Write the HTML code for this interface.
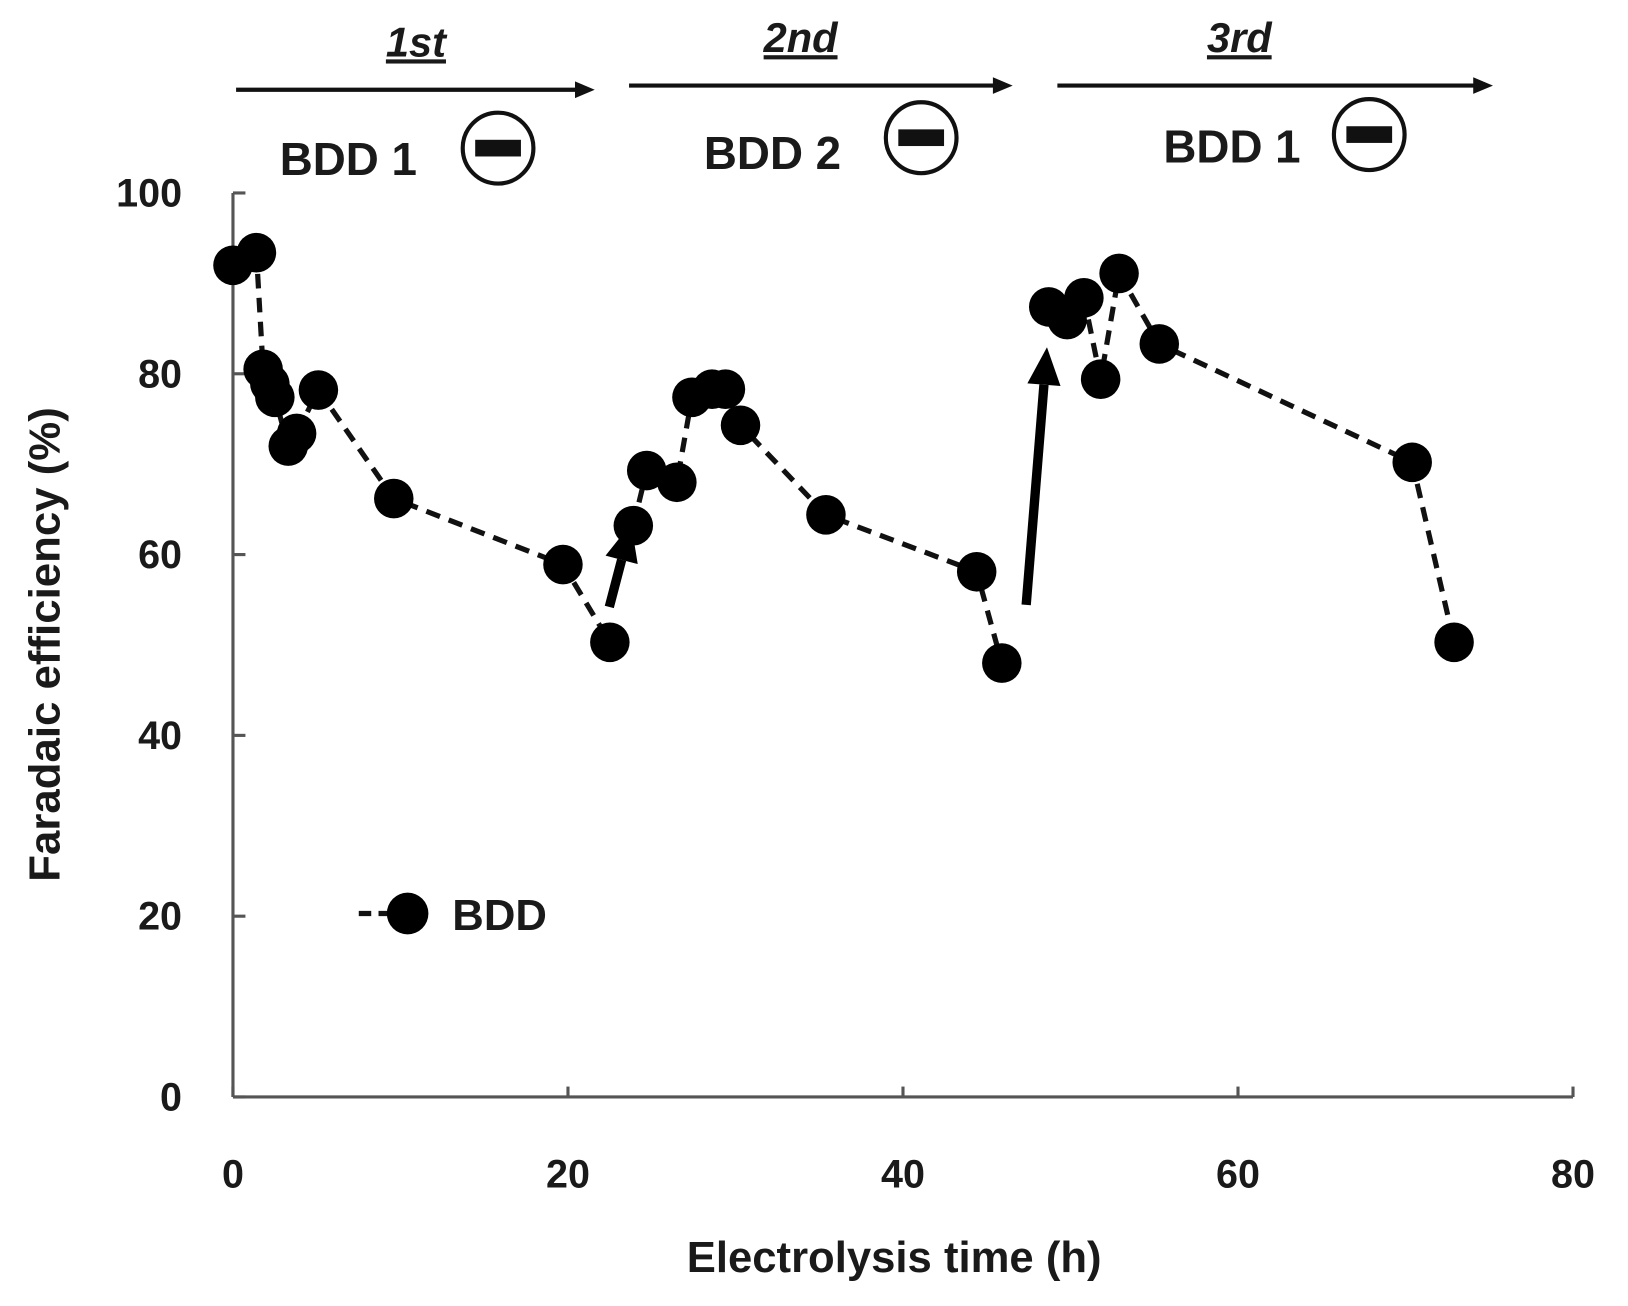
<!DOCTYPE html>
<html><head><meta charset="utf-8"><style>
body{margin:0;background:#fff}
svg text{font-family:"Liberation Sans",sans-serif;font-weight:bold;fill:#1a1a1a}
</style></head><body>
<svg width="1628" height="1301" viewBox="0 0 1628 1301">
<g transform="matrix(1.0396 0 0 1.0427 -5.1 -4.1)">
<g id="top">
<text x="405" y="58" font-size="40" font-style="italic" text-anchor="middle" text-decoration="underline">1st</text>
<text x="775" y="54" font-size="40" font-style="italic" text-anchor="middle" text-decoration="underline">2nd</text>
<text x="1197" y="54" font-size="40" font-style="italic" text-anchor="middle" text-decoration="underline">3rd</text>
<g stroke="#111" stroke-width="4">
<line x1="232" y1="90" x2="562" y2="90"/><line x1="610" y1="86" x2="964" y2="86"/><line x1="1022" y1="86" x2="1426" y2="86"/></g>
<polygon points="577,90 558,82 558,98" fill="#111"/><polygon points="979,86 960,78 960,94" fill="#111"/><polygon points="1441,86 1422,78 1422,94" fill="#111"/>
<text x="340" y="172" font-size="44" text-anchor="middle" font-weight="normal">BDD 1</text>
<text x="748" y="166" font-size="44" text-anchor="middle" font-weight="normal">BDD 2</text>
<text x="1190" y="160" font-size="44" text-anchor="middle" font-weight="normal">BDD 1</text>
<g><circle cx="484" cy="146" r="34" fill="none" stroke="#111" stroke-width="4"/><rect x="462" y="138" width="44" height="16" fill="#111"/></g>
<g><circle cx="891" cy="136" r="34" fill="none" stroke="#111" stroke-width="4"/><rect x="869" y="128" width="44" height="16" fill="#111"/></g>
<g><circle cx="1322" cy="133" r="34" fill="none" stroke="#111" stroke-width="4"/><rect x="1300" y="125" width="44" height="16" fill="#111"/></g>
</g>
<g id="axes"></g>
<g id="plot"></g>
<g>
<line x1="350" y1="880" x2="395" y2="880" stroke="#111" stroke-width="5" stroke-dasharray="12,7"/>
<circle cx="397" cy="880" r="20" fill="#000"/>
<text x="440" y="896" font-size="42" font-weight="normal">BDD</text>
</g>
<text x="865" y="1224" font-size="42" text-anchor="middle">Electrolysis time (h)</text>
<text transform="translate(62,622) rotate(-90)" font-size="42" text-anchor="middle">Faradaic efficiency (%)</text>
</g>
</svg>
<script>
const xTicks=[0,20,40,60,80];
const yTicks=[0,20,40,60,80,100];
const cycle1X=[0,1.4,1.8,2.2,2.5,3.3,3.8,5.1,9.6,19.7,22.5];
const cycle1Y=[92,93.4,80.5,78.9,77.4,72,73.4,78.2,66.2,58.9,50.3];
const cycle2X=[23.9,24.7,26.5,27.4,28.6,29.4,30.3,35.4,44.4,45.9];
const cycle2Y=[63.2,69.3,68,77.4,78.3,78.3,74.3,64.4,58.1,48];
const cycle3X=[48.7,49.8,50.8,51.8,52.9,55.3,70.4,72.9];
const cycle3Y=[87.4,86,88.4,79.4,91.1,83.3,70.2,50.3];
const NS='http://www.w3.org/2000/svg';
const sx=v=>229+v*(1518-229)/80;
const sy=v=>1056-v*(1056-189)/100;
function mk(t,a,p){const e=document.createElementNS(NS,t);for(const k in a)e.setAttribute(k,a[k]);p.appendChild(e);return e;}
const ax=document.getElementById('axes');
let l=mk('line',{x1:sx(0),y1:sy(0),x2:sx(80),y2:sy(0),stroke:'#555','stroke-width':3},ax);


l=mk('line',{x1:sx(0),y1:sy(0),x2:sx(0),y2:sy(100),stroke:'#555','stroke-width':3},ax);


xTicks.forEach(v=>{mk('line',{x1:sx(v),y1:sy(0),x2:sx(v),y2:sy(0)-10,stroke:'#555','stroke-width':3},ax);
const t=mk('text',{x:sx(v),y:1143,'font-size':38,'text-anchor':'middle'},ax);t.textContent=v;

});
yTicks.forEach(v=>{mk('line',{x1:sx(0),y1:sy(v),x2:sx(0)+12,y2:sy(v),stroke:'#555','stroke-width':3},ax);
const t=mk('text',{x:180,y:sy(v)+13,'font-size':38,'text-anchor':'end'},ax);t.textContent=v;

});
const pl=document.getElementById('plot');
[[cycle1X,cycle1Y],[cycle2X,cycle2Y],[cycle3X,cycle3Y]].forEach((c,i)=>{
const p=mk('polyline',{points:c[0].map((x,j)=>sx(x)+','+sy(c[1][j])).join(' '),fill:'none',stroke:'#111','stroke-width':5,'stroke-dasharray':'14,9'},pl);


c[0].forEach((x,j)=>{const d=mk('circle',{cx:sx(x),cy:sy(c[1][j]),r:19,fill:'#000'},pl);

});});
function arrow(x1,y1,x2,y2,name){const g=mk('g',{},pl);


const a=Math.atan2(y2-y1,x2-x1),L=36,W=16;const bx=x2-L*Math.cos(a),by=y2-L*Math.sin(a);
mk('line',{x1:x1,y1:y1,x2:bx,y2:by,stroke:'#000','stroke-width':9},g);
mk('polygon',{points:`${x2},${y2} ${bx+W*Math.sin(a)},${by-W*Math.cos(a)} ${bx-W*Math.sin(a)},${by+W*Math.cos(a)}`,fill:'#000'},g);}
arrow(591,586,612,506,'cycle-2-jump-arrow');
arrow(992,584,1012,337,'cycle-3-jump-arrow');
</script>
</body></html>
